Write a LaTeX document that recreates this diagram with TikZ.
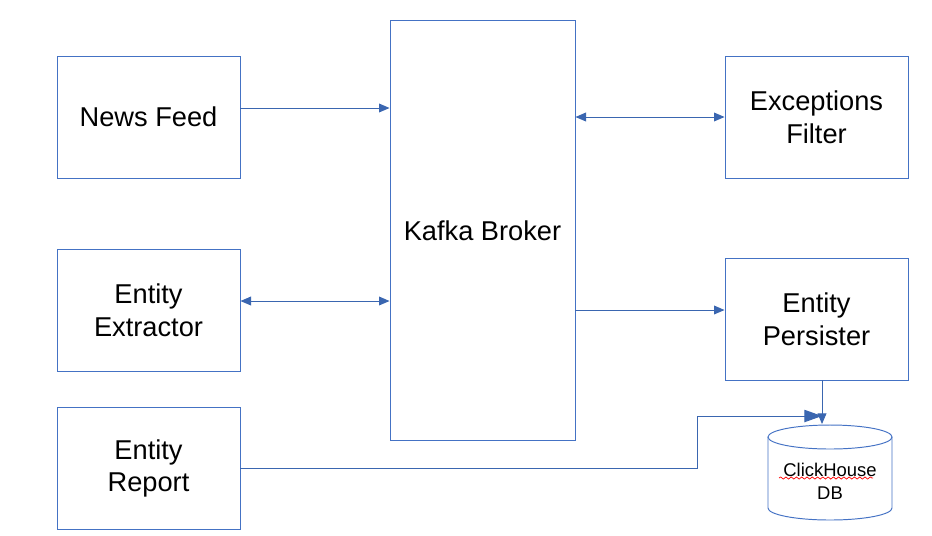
\documentclass[tikz,border=0pt]{standalone}
\usepackage{fontspec}
\setmainfont{Liberation Sans}
\usetikzlibrary{arrows.meta,decorations.pathmorphing}
\definecolor{boxblue}{HTML}{4472C4}
\definecolor{lineblue}{HTML}{3A66B0}
\tikzset{
    block/.style={
           rectangle,
           draw=boxblue, line width=0.55pt,
           minimum width=3.66cm,
           minimum height=2.44cm,
           align=center,
           font=\fontsize{15.5}{18.7}\selectfont,
           },
}
\tikzset{
    link/.style={
           draw=lineblue, line width=0.55pt,
           -{Triangle[length=6pt,width=5pt]},
           },
    twoway/.style={
           link,
           {Triangle[length=6pt,width=5pt]}-{Triangle[length=6pt,width=5pt]},
           },
    dbline/.style={draw=boxblue, line width=0.55pt},
}

\begin{document}
\begin{tikzpicture}[x=0.02cm,y=-0.02cm]
\useasboundingbox (0,0) rectangle (932,535);
\node[block](news) at (148.5,117){News Feed};
\node[block](extractor) at (148.5,310){Entity\\Extractor};
\node[block](report) at (148.5,468.5){Entity\\Report};
\node[block,minimum width=3.7cm,minimum height=8.42cm](kafka) at (482.5,230.5){Kafka Broker};
\node[block](filter) at (816.5,117){Exceptions\\Filter};
\node[block](persister) at (816.5,319){Entity\\Persister};
% ClickHouse cylinder
\draw[dbline] (768,437) -- (768,508)
    arc[start angle=180,end angle=360,x radius=1.24cm,y radius=0.24cm] -- (892,437);
\draw[dbline] (830,437) ellipse[x radius=1.24cm,y radius=0.24cm];
\node[align=center,font=\fontsize{10.5}{13}\selectfont](db) at (830,481){ClickHouse\\DB};
\coordinate (newsout) at ([yshift=0.18cm]news.east);
\coordinate (extractorout) at ([yshift=0.18cm]extractor.east);
\coordinate (persisterin) at ([yshift=0.18cm]persister.west);
\coordinate (dbin) at (822,424);
\coordinate (bend) at (697,416);
% squiggle under ClickHouse
\draw[red,line width=0.4pt,decorate,decoration={snake,amplitude=0.6pt,segment length=3pt}]
    (779,478) -- (873,478);
% connections
\draw[link] (newsout) -- (kafka.west |- newsout);
\draw[twoway] (extractorout) -- (kafka.west |- extractorout);
\draw[twoway] (kafka.east |- filter.west) -- (filter.west);
\draw[link] (kafka.east |- persisterin) -- (persisterin);
\draw[link] (persister.south -| dbin) -- (dbin);
\draw[link,-{Triangle[length=10pt,width=7pt]}] (report.east) -| (bend) -- (bend -| dbin);
\end{tikzpicture}
\end{document}
